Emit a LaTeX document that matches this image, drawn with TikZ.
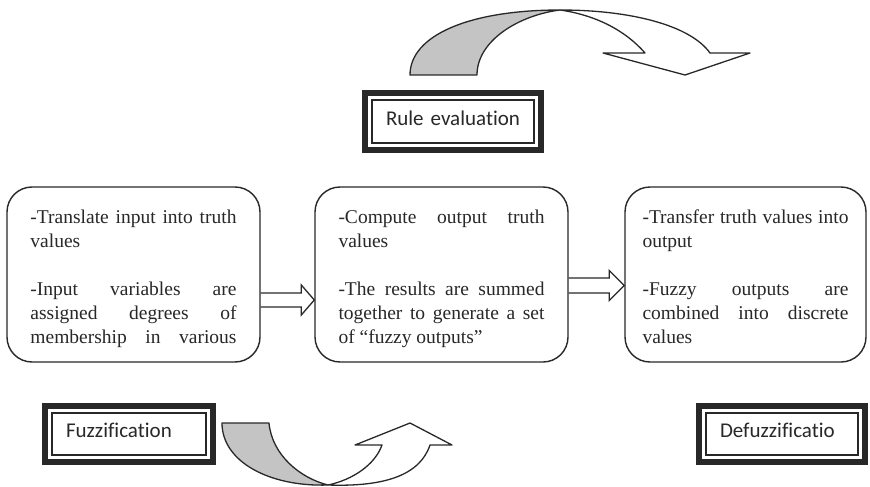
\documentclass[tikz,border=0pt]{standalone}
\usepackage{fontspec}
\setmainfont{Liberation Serif}
\newfontfamily\labelfont[Ligatures=CommonOff]{Carlito}
\usetikzlibrary{calc}

\definecolor{ink}{RGB}{40,40,40}
\definecolor{shade}{RGB}{196,196,196}

% one justified line / one left-aligned line of a process box
\newcommand{\jline}[1]{\makebox[\linewidth][s]{\strut #1}\par}
\newcommand{\lline}[1]{\makebox[\linewidth][l]{\strut #1}\par}

% hollow block arrow from node #1 to node #2, #3 = vertical offset from the anchors
\newcommand{\blockarrow}[5]{%
  \draw[hollow] ($(#1)+(0,#3-#4)$) -- ($(#2)+(-#5,#3-#4)$) -- ($(#2)+(-#5,#3-15)$)
    -- ($(#2)+(0,#3)$) -- ($(#2)+(-#5,#3+15)$) -- ($(#2)+(-#5,#3+#4)$) -- ($(#1)+(0,#3+#4)$);}

\begin{document}
\begin{tikzpicture}[x=1pt,y=-1pt,
  procbox/.style={draw=ink, line width=1.4pt, rounded corners=25pt,
    minimum height=175pt, inner sep=0pt, text=ink,
    font=\fontsize{19.5}{24}\selectfont},
  stagebox/.style={draw=ink, line width=1.5pt, inner xsep=14pt, inner ysep=0pt,
    align=left, text=ink, font=\labelfont\fontsize{21}{24}\selectfont,
    text height=15pt, text depth=8pt},
  frame/.style={draw=ink, line width=6pt},
  hollow/.style={draw=ink, line width=1.3pt, line join=miter},
  ribbon/.style={draw=ink, line width=1.3pt, line join=round}]

\fill[white] (0,0) rectangle (870,487);
\useasboundingbox (0,0) rectangle (870,487);

% process boxes
\node[procbox, minimum width=253pt] (fuzz) at (133.5,274.5) {\parbox{206pt}{\parskip=0pt\vspace*{9pt}%
  \jline{-Translate input into truth}
  \lline{values}
  \vskip 24pt
  \jline{-Input variables are}
  \jline{assigned degrees of}
  \jline{membership in various}}};

\node[procbox, minimum width=253pt] (rule) at (441.5,274.5) {\parbox{206pt}{\parskip=0pt\vspace*{9pt}%
  \jline{-Compute output truth}
  \lline{values}
  \vskip 24pt
  \jline{-The results are summed}
  \jline{together to generate a set}
  \lline{of “fuzzy outputs”}}};

\node[procbox, minimum width=241pt] (defuzz) at (745.5,274.5) {\parbox{206pt}{\parskip=0pt\vspace*{9pt}%
  \jline{-Transfer truth values into}
  \lline{output}
  \vskip 24pt
  \jline{-Fuzzy outputs are}
  \jline{combined into discrete}
  \lline{values}}};

% hollow arrows between the boxes
\blockarrow{fuzz.east}{rule.west}{25.5}{7}{13}
\blockarrow{rule.east}{defuzz.west}{11}{7.5}{15}

% stage labels with thick-thin frames
\node[stagebox, minimum height=43pt, text width=134pt] (ruleLbl) at (453,121.5) {Rule evaluation};
\node[stagebox, minimum height=42pt, text width=126pt] (fuzzLbl) at (129,434) {Fuzzification};
\node[stagebox, minimum height=42pt, text width=124pt] (defuzzLbl) at (782,434) {Defuzzificatio};
\foreach \n in {ruleLbl,fuzzLbl,defuzzLbl}
  \draw[frame] ([shift={(-6,-6)}]\n.north west) rectangle ([shift={(6,6)}]\n.south east);

% curved arrow over the rule evaluation stage
\filldraw[ribbon, fill=shade] (410,75) .. controls (410,35) and (470,10) .. (560,10)
  .. controls (520,15) and (477,40) .. (477,75) -- cycle;
\filldraw[ribbon, fill=white] (560,10) .. controls (630,10) and (690,25) .. (710,53)
  -- (750,53) -- (685,75) -- (603,53) -- (645,53)
  .. controls (625,30) and (595,15) .. (560,10) -- cycle;

% curved arrow beside the fuzzification stage
\filldraw[ribbon, fill=shade] (222,423) -- (269,423) .. controls (272,455) and (300,478) .. (328,485)
  .. controls (270,487) and (222,462) .. (222,423) -- cycle;
\filldraw[ribbon, fill=white] (328,485) .. controls (352,480) and (375,465) .. (382,445)
  -- (355,445) -- (410,423) -- (452,445) -- (430,445)
  .. controls (420,475) and (385,487) .. (328,485) -- cycle;

\end{tikzpicture}
\end{document}
